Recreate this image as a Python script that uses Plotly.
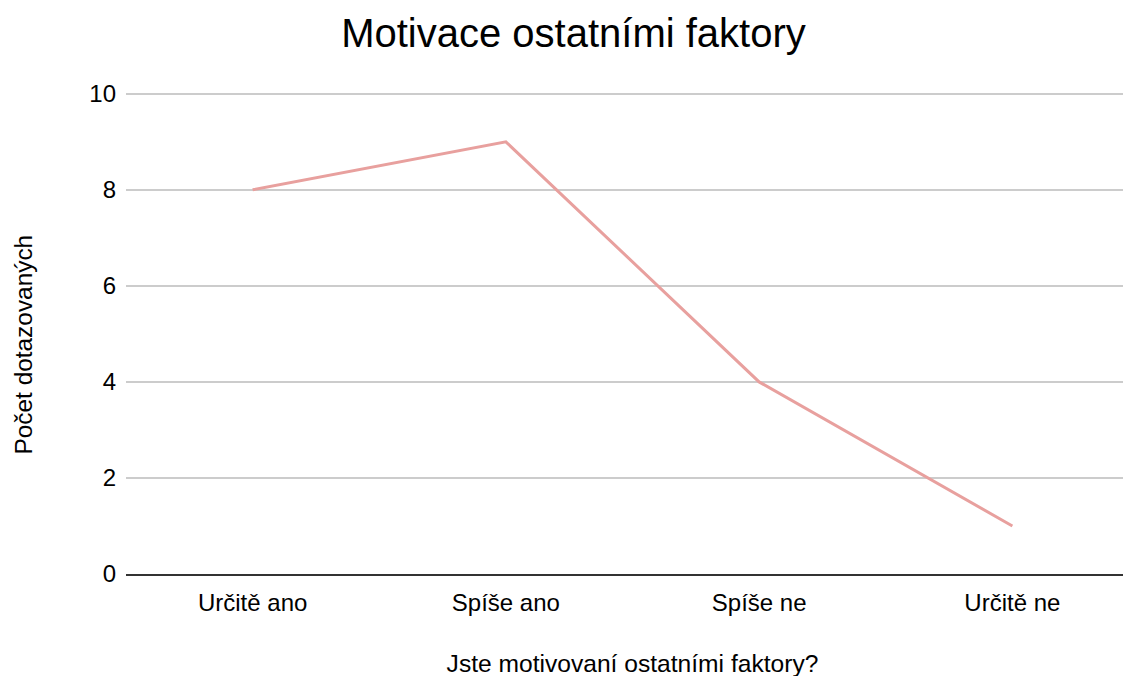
import plotly.graph_objects as go

categories = ["Určitě ano", "Spíše ano", "Spíše ne", "Určitě ne"]
counts = [8, 9, 4, 1]
y_ticks = [0, 2, 4, 6, 8, 10]

font_family = "Liberation Sans, Arial, sans-serif"

fig = go.Figure()

fig.add_trace(go.Scatter(
    x=categories, y=counts,
    mode="lines",
    line=dict(color="#E8A09E", width=3),
    hovertemplate="%{x}: %{y}<extra></extra>",
))

fig.update_layout(
    width=1131, height=676,
    margin=dict(l=118, r=0, t=81, b=110),
    paper_bgcolor="white",
    plot_bgcolor="white",
    showlegend=False,
    font=dict(family=font_family, size=24, color="black"),
    title=dict(text="Motivace ostatními faktory", x=0.5, xanchor="center",
               y=0.963, yanchor="middle",
               font=dict(family=font_family, size=40, color="black")),
    xaxis=dict(
        range=[-0.5, 3.5],
        showgrid=False, zeroline=False,
        showline=True, linecolor="#333333", linewidth=2,
        ticks="", ticklabelstandoff=6,
        tickfont=dict(size=24),
        title=dict(text="Jste motivovaní ostatními faktory?", standoff=40,
                   font=dict(size=24.6)),
        fixedrange=True,
    ),
    yaxis=dict(
        range=[0, 10.1],
        tickvals=y_ticks,
        showgrid=True, gridcolor="#CCCCCC", gridwidth=1.5,
        zeroline=False, showline=False,
        ticks="", ticklabelstandoff=9,
        tickfont=dict(size=24),
        fixedrange=True,
    ),
    annotations=[dict(
        text="Počet dotazovaných", textangle=-90,
        xref="paper", yref="paper", x=0, y=0.5,
        xanchor="center", yanchor="middle",
        xshift=-103, yshift=-13, showarrow=False,
        font=dict(family=font_family, size=24.4, color="black"),
    )],
)

fig.write_html("out.html")
